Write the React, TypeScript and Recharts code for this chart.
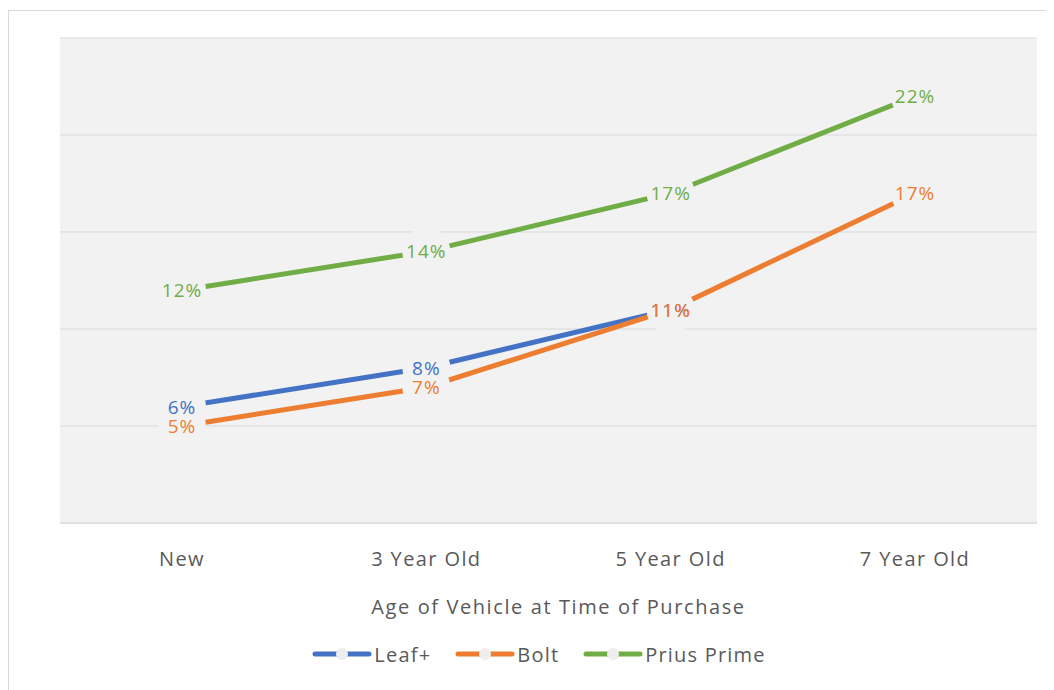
import React from 'react';
import { LineChart, Line, XAxis, YAxis, CartesianGrid, Legend, LabelList, Label } from 'recharts';

const categories = ['New', '3 Year Old', '5 Year Old', '7 Year Old'];
const leafValues = [6, 8, 11, null];
const boltValues = [5, 7, 11, 17];
const priusValues = [12, 14, 17, 22];
const yTicks = [0, 5, 10, 15, 20, 25];
const seriesKeys = ['leaf', 'bolt', 'prius'];
const seriesNames = ['Leaf+', 'Bolt', 'Prius Prime'];
const seriesColors = ['#4472C4', '#ED7D31', '#70AD47'];
const xTitle = 'Age of Vehicle at Time of Purchase';

const data = categories.map((c, i) => ({
  name: c,
  leaf: leafValues[i],
  bolt: boltValues[i],
  prius: priusValues[i],
}));

const FONT = "'Open Sans', sans-serif";
const PLOT_BG = '#f2f2f2';
const GRID = '#d9d9d9';
const TEXT = '#595959';

const makeLabel = (color: string) => (props: any) => {
  const { x, y, value } = props;
  if (value == null || x == null || y == null) return null;
  return (
    <text
      x={x}
      y={y}
      dy={7}
      textAnchor="middle"
      fill={color}
      fontSize={19}
      letterSpacing={1}
      fontFamily={FONT}
    >
      {`${Math.round(value)}%`}
    </text>
  );
};

const renderLegend = () => (
  <div
    style={{
      display: 'flex',
      justifyContent: 'center',
      alignItems: 'center',
      height: 30,
      paddingLeft: 15,
      fontFamily: FONT,
      fontSize: 20,
      letterSpacing: 1.2,
      color: TEXT,
    }}
  >
    {seriesNames.map((n, i) => (
      <div key={n} style={{ display: 'flex', alignItems: 'center', marginRight: i < seriesNames.length - 1 ? 24 : 0 }}>
        <svg width={60} height={14} style={{ marginRight: 2 }}>
          <line x1={3} y1={7} x2={57} y2={7} stroke={seriesColors[i]} strokeWidth={5} strokeLinecap="round" />
          <circle cx={30} cy={7} r={6} fill="#eeeeee" />
        </svg>
        <span>{n}</span>
      </div>
    ))}
  </div>
);

export default function App() {
  return (
    <div style={{ paddingTop: 2 }}>
      <div
        style={{
          width: 1046,
          height: 679,
          borderLeft: '1px solid #d9d9d9',
          borderTop: '1px solid #d9d9d9',
          background: '#fff',
        }}
      >
        <LineChart
          width={1045}
          height={678}
          data={data}
          margin={{ top: 27, left: 51, right: 17, bottom: 20 }}
        >
          <CartesianGrid vertical={false} stroke={GRID} fill={PLOT_BG} fillOpacity={1} />
          <YAxis hide domain={[0, 25]} ticks={yTicks} type="number" />
          <XAxis
            dataKey="name"
            interval={0}
            padding={{ left: 122, right: 122 }}
            height={116}
            tickLine={false}
            tickSize={0}
            tickMargin={29}
            axisLine={{ stroke: GRID }}
            tick={{ fill: TEXT, fontSize: 20, fontFamily: FONT, letterSpacing: 1.4 }}
          >
            <Label
              value={xTitle}
              position="insideBottom"
              offset={25}
              dx={10}
              fill={TEXT}
              fontSize={20}
              fontFamily={FONT}
              letterSpacing={1.6}
            />
          </XAxis>
          {seriesKeys.map((k, i) => (
            <Line
              key={k}
              dataKey={k}
              name={seriesNames[i]}
              stroke={seriesColors[i]}
              strokeWidth={5}
              dot={{ r: 24, fill: PLOT_BG, stroke: 'none', strokeWidth: 0 }}
              activeDot={false}
              isAnimationActive={false}
            />
          ))}
          {seriesKeys.map((k, i) => (
            <Line
              key={`${k}-labels`}
              dataKey={k}
              stroke="none"
              dot={false}
              activeDot={false}
              legendType="none"
              isAnimationActive={false}
            >
              <LabelList dataKey={k} content={makeLabel(seriesColors[i])} />
            </Line>
          ))}
          <Legend verticalAlign="bottom" height={30} content={renderLegend} wrapperStyle={{ left: 0, width: 1045 }} />
        </LineChart>
      </div>
    </div>
  );
}
